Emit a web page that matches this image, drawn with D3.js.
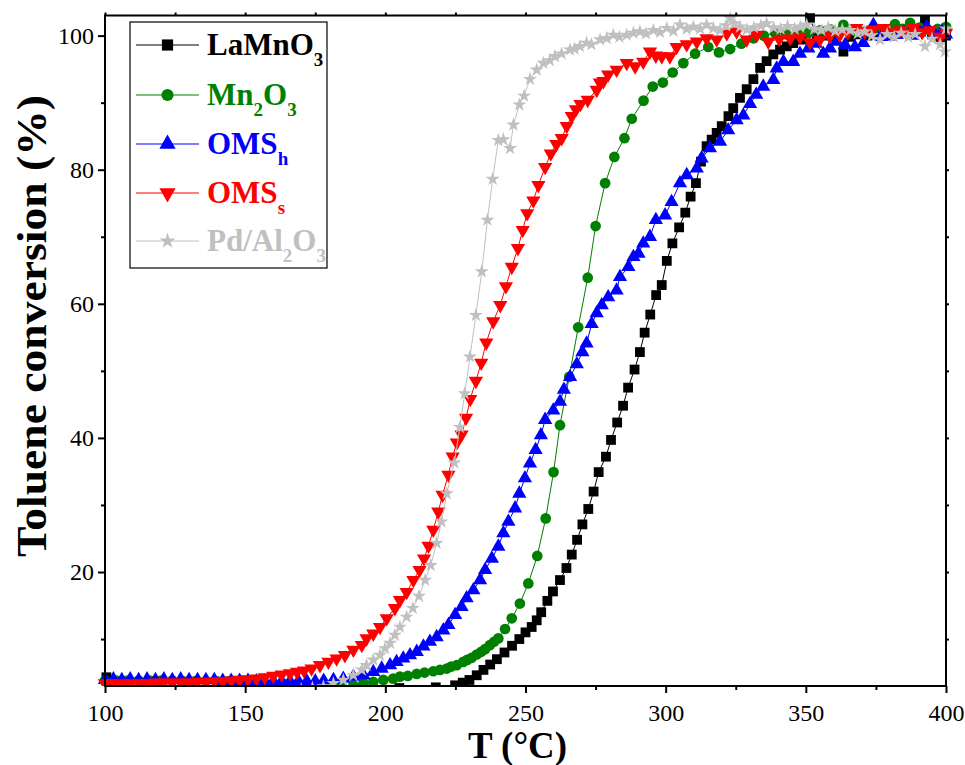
<!DOCTYPE html>
<html>
<head>
<meta charset="utf-8">
<script src="https://cdn.jsdelivr.net/npm/d3@7"></script>
<style>
  body { margin: 0; background: #fff; }
  text { font-family: "Liberation Serif", "Times New Roman", serif; }
</style>
</head>
<body>
<svg id="chart" width="965" height="765"></svg>
<script>
////////////////////////////////////////////////
// data (T in °C, toluene conversion in %)
////////////////////////////////////////////////

var xTicks = [100, 150, 200, 250, 300, 350, 400];
var xMinor = [125, 175, 225, 275, 325, 375];
var yTicks = [20, 40, 60, 80, 100];
var yMinor = [10, 30, 50, 70, 90];

var seriesNames = ["LaMnO3", "Mn2O3", "OMSh", "OMSs", "Pd/Al2O3"];

var laMnO3 = [
  [100.5,4.3],[103,2.6],[115,2.6],[130,2.6],[145,2.6],[160,2.6],[175,2.6],[190,2.6],[205,2.7],[218,2.8],
  [224.9,3.1],[227.6,3.5],[230.0,3.9],[232.6,4.6],[235.0,5.4],[237.4,6.2],[239.8,7.0],[242.5,8.0],[245.2,9.0],
  [247.8,10.0],[250.0,11.0],[252.2,11.8],[254.0,12.8],[255.6,14.0],[257.8,15.7],[259.8,17.1],[262.3,18.8],
  [264.6,20.6],[266.5,22.6],[268.4,24.8],[270.3,27.1],[272.4,29.4],[274.3,32.0],[276.1,34.9],[278.7,37.2],
  [280.5,39.7],[282.7,42.3],[284.8,44.8],[286.6,47.5],[288.9,50.2],[290.8,52.8],[292.5,55.7],[294.5,58.4],
  [296.6,61.3],[298.6,62.8],[300.4,66.4],[302.4,69.0],[304.8,71.4],[307.0,73.6],[308.9,76.0],[310.8,78.0],
  [312.6,81.2],[314.6,83.5],[316.4,84.5],[318.2,85.5],[320.0,86.5],[322.4,88.0],[324.1,89.2],[326.5,90.7],
  [328.9,92.0],[331.3,93.5],[333.7,95.2],[336.0,96.2],[338.4,97.2],[340.8,97.9],[343.2,98.4],[345.5,98.9],
  [348.5,99.4],[351.5,102.6],[354.0,99.6],[357.0,100.0],[360.0,99.8],[363.4,97.6],[366.0,99.8],[369.0,100.2],
  [372.0,100.0],[375.0,100.4],[378.0,100.1],[381.0,100.3],[384.0,100.6],[387.0,100.5],[390.0,100.8],
  [392.5,102.3],[395.0,100.2],[398.0,99.6],[400.0,100.0]
];

var mn2O3 = [
  [100,3.8],[104,3.8],[108,3.8],[112,3.8],[116,3.8],[120,3.8],[124,3.8],[128,3.7],[132,3.7],[136,3.7],
  [140,3.7],[144,3.7],[148,3.6],[152,3.6],[156,3.5],[160,3.4],[164,3.3],[168,3.2],[172,3.1],[176,3.0],
  [180,3.0],[184,3.0],[188.6,3.1],[192.2,3.4],[195.7,3.6],[199.3,3.9],[202.8,4.1],[205.2,4.4],[208.0,4.5],
  [211.2,4.8],[214.0,5.0],[217.1,5.2],[219.5,5.4],[221.9,5.6],[223.5,5.9],[225.5,6.1],[227.8,6.6],[229.2,6.9],
  [230.8,7.2],[232.6,7.7],[234.2,8.1],[235.6,8.5],[237.3,9.1],[238.8,9.6],[240.3,10.1],[242.7,11.5],
  [245.1,13.1],[248.0,15.3],[251.0,18.3],[254.2,22.4],[257.2,28.0],[260.0,34.9],[262.3,41.9],[265.6,49.1],
  [268.8,56.5],[272.2,63.9],[275.0,71.6],[278.4,78.0],[281.7,81.9],[285.3,84.7],[287.9,87.6],[292.1,90.3],
  [295.4,92.4],[299.0,93.0],[302.5,94.5],[306.3,95.9],[310.5,97.3],[315.2,98.3],[319.0,97.5],[323.0,98.0],
  [327.0,98.8],[331.3,99.6],[335.0,100.0],[339.0,100.4],[343.0,100.2],[347.0,100.6],[351.0,100.4],
  [355.0,100.8],[359.0,100.9],[363.4,101.6],[367.0,100.8],[371.0,100.6],[375.0,101.0],[378.0,100.7],
  [381.8,101.7],[384.5,101.0],[387.2,101.9],[390.5,101.2],[394.0,100.8],[397.0,101.0],[400.0,101.3]
];

var omsH = [
  [100,3.9],[103,4.0],[106,3.9],[109,4.0],[112,3.9],[115,4.0],[118,3.9],[121,4.0],[124,3.9],[127,4.0],
  [130,3.9],[133,3.9],[136,3.9],[139,3.9],[142,3.8],[145,3.8],[148,3.8],[151,3.8],[154,3.7],[157,3.7],
  [160,3.7],[163,3.7],[166,3.7],[169,3.7],[172,3.7],[175,3.7],[178,3.8],[181.5,3.9],[185.0,4.1],[188.6,4.4],
  [192.2,4.6],[195.7,5.1],[198.7,5.6],[201.7,6.1],[204.0,6.6],[206.4,7.1],[208.8,7.6],[211.2,8.1],[213.6,8.9],
  [215.9,9.6],[218.3,10.3],[220.7,11.3],[222.5,12.1],[224.9,13.6],[227.2,14.8],[229.0,16.1],[231.4,17.3],
  [233.8,18.8],[235.6,20.3],[238.0,22.0],[240.3,23.8],[242.1,25.8],[243.9,27.5],[246.3,29.5],[247.8,31.7],
  [249.8,34.0],[251.6,36.2],[253.6,38.2],[255.5,40.4],[257.0,42.7],[259.9,44.1],[262.3,45.4],[263.7,47.2],
  [265.9,49.1],[268.3,51.0],[270.3,52.8],[271.8,54.1],[273.6,57.0],[275.4,58.6],[277.2,59.8],[279.5,61.0],
  [282.5,62.0],[283.7,64.0],[286.7,65.5],[288.5,67.0],[290.3,67.5],[292.0,69.0],[294.4,70.0],[296.5,72.5],
  [299.8,73.2],[302.1,75.2],[305.1,78.0],[307.5,79.2],[311.1,80.2],[312.8,81.7],[315.8,83.2],[319.4,84.2],
  [322.3,85.9],[325.3,87.4],[327.7,88.1],[330.1,89.8],[332.3,91.2],[334.8,92.4],[338.4,93.4],[339.6,95.1],
  [342.0,96.1],[345.5,96.1],[347.9,97.3],[350.9,98.1],[353.5,98.8],[356.2,97.3],[358.6,98.1],[361.0,99.1],
  [364.0,98.6],[367.5,98.3],[370.5,98.9],[374.1,101.6],[377.0,99.8],[380.0,99.9],[382.4,100.1],[385.0,100.4],
  [388.0,100.0],[390.5,100.5],[393.1,101.3],[396.0,100.2],[398.5,100.6],[400.0,100.2]
];

var omsS = [
  [100,3.4],[103,3.4],[106,3.4],[109,3.4],[112,3.4],[115,3.4],[118,3.5],[121,3.5],[124,3.5],[127,3.5],
  [130,3.5],[133,3.6],[136,3.6],[139,3.7],[142,3.7],[145,3.8],[148,3.9],[151,4.0],[154,4.1],[157,4.3],
  [160,4.5],[163,4.7],[166,4.9],[168.5,5.1],[171,5.3],[173.7,5.6],[176.7,6.1],[179.7,6.6],[182.6,7.1],
  [185.6,7.6],[188.6,8.4],[191.6,9.1],[193.3,10.1],[195.7,10.8],[198.1,11.8],[200.5,13.1],[203.4,14.6],
  [205.2,15.8],[207.6,17.0],[210.0,18.8],[212.2,20.3],[213.8,22.0],[215.4,23.9],[217.1,26.3],[218.9,29.0],
  [220.4,31.5],[222.5,34.5],[224.0,37.2],[225.5,39.3],[227.2,40.5],[228.8,43.0],[230.3,45.8],[232.3,48.5],
  [234.2,51.2],[236.0,54.2],[238.5,57.4],[241.0,59.8],[243.0,62.6],[245.1,65.5],[247.3,68.3],[249.0,71.0],
  [250.6,73.5],[252.8,75.4],[254.6,77.7],[257.0,80.4],[259.0,82.4],[261.0,83.8],[262.9,84.7],[264.7,86.5],
  [266.5,88.0],[268.0,89.0],[269.6,89.8],[272.2,90.4],[275.4,91.9],[276.5,93.0],[277.8,93.2],[279.5,94.2],
  [282.5,94.9],[286.1,95.9],[289.1,95.4],[292.0,96.1],[294.4,97.6],[296.5,97.0],[298.6,96.9],[301.5,96.9],
  [303.9,98.3],[307.5,98.7],[311.1,99.1],[314.6,99.6],[318.2,99.4],[321.8,100.3],[325.3,100.6],[328.9,99.4],
  [332.5,100.1],[336.6,99.1],[340.5,99.5],[344.4,99.6],[347.9,99.8],[351.5,99.0],[355.0,99.4],[358.5,99.9],
  [362.1,100.1],[365.0,100.5],[368.0,101.1],[371.0,100.6],[374.0,100.9],[377.7,101.1],[380.5,100.5],
  [383.6,100.8],[386.0,100.4],[388.4,101.1],[391.5,100.5],[394.3,100.8],[397.9,99.8],[400.0,100.4]
];

var pdAl2O3 = [
  [170,2.5],[174,2.7],[177.9,2.9],[181.5,3.4],[185.0,3.9],[188.6,4.6],[191.6,5.4],[193.3,6.1],[195.7,6.9],
  [198.1,7.6],[199.9,8.6],[201.7,9.4],[203.4,10.6],[205.2,11.8],[207.6,13.3],[209.8,14.6],[212.0,16.4],
  [214.2,18.8],[216.2,21.0],[218.3,24.3],[220.0,27.5],[221.9,31.7],[224.6,36.3],[226.6,41.6],[228.3,46.6],
  [230.2,52.1],[232.3,58.3],[234.4,64.8],[236.4,72.5],[238.3,78.6],[240.3,84.4],[242.1,84.5],[244.5,83.2],
  [245.7,86.7],[247.8,89.7],[249.5,91.0],[251.6,93.5],[254.0,94.9],[256.4,95.9],[258.7,96.3],[260.5,96.9],
  [262.9,97.3],[265.9,97.9],[267.5,98.0],[269.4,98.4],[271.8,98.9],[273.5,98.7],[276.6,99.4],[279.0,99.6],
  [281.3,100.1],[283.5,99.8],[286.1,100.1],[288.5,100.4],[290.8,100.6],[293.0,100.3],[295.6,100.8],
  [298.0,100.5],[300.4,101.1],[302.8,100.7],[305.1,101.6],[307.5,101.0],[309.9,101.3],[312.3,101.0],
  [314.6,101.6],[317.0,101.1],[319.4,100.8],[321.5,101.5],[323.0,102.6],[324.5,101.8],[326.5,101.3],
  [329.0,100.9],[331.5,101.2],[334.0,101.5],[336.0,101.8],[338.5,101.2],[341.0,101.0],[343.5,101.4],
  [346.0,101.0],[348.0,101.3],[350.3,101.6],[353.0,101.0],[355.5,100.8],[358.0,101.2],[360.5,100.7],
  [363.0,100.9],[365.8,100.8],[368.5,100.3],[371.0,100.6],[373.5,100.0],[376.5,99.4],[379.0,100.2],
  [381.5,99.8],[384.0,100.4],[386.5,99.8],[389.0,100.2],[392.5,98.4],[395.0,99.5],[397.9,98.7],
  [399.6,97.6],[400.0,101.0]
];

////////////////////////////////////////////////
// styles
////////////////////////////////////////////////

var series = [
  {name: seriesNames[0], data: laMnO3,  color: '#000000', sym: d3.symbolSquare,   size: 96, rot: 0,
   label: [['LaMnO',0],['3',1]]},
  {name: seriesNames[1], data: mn2O3,   color: '#008000', sym: d3.symbolCircle,   size: 90, rot: 0,
   label: [['Mn',0],['2',1],['O',0],['3',1]]},
  {name: seriesNames[2], data: omsH,    color: '#0000ff', sym: d3.symbolTriangle, size: 88, rot: 0,
   label: [['OMS',0],['h',1]]},
  {name: seriesNames[3], data: omsS,    color: '#ff0000', sym: d3.symbolTriangle, size: 88, rot: 180,
   label: [['OMS',0],['s',1]]},
  {name: seriesNames[4], data: pdAl2O3, color: '#c0c0c0', sym: d3.symbolStar,     size: 62, rot: 0,
   label: [['Pd/Al',0],['2',1],['O',0],['3',1]]}
];

var W = 965, H = 765;
var pl = 105, pr = 946, pt = 15.5, pb = 686;
var serif = '"Liberation Serif", "Times New Roman", serif';

var svg = d3.select('#chart');

var x = d3.scaleLinear().domain([100, 400]).range([pl, pr]);
var y = d3.scaleLinear().domain([3, 103]).range([pb, pt]);

////////////////////////////////////////////////
// clip paths
////////////////////////////////////////////////

var defs = svg.append('defs');
defs.append('clipPath').attr('id', 'lineClip')
  .append('rect').attr('x', pl).attr('y', pt).attr('width', pr - pl).attr('height', pb - pt);
defs.append('clipPath').attr('id', 'markClip')
  .append('rect').attr('x', pl - 7).attr('y', pt - 7).attr('width', pr - pl + 14).attr('height', pb - pt + 7);

////////////////////////////////////////////////
// series
////////////////////////////////////////////////

var line = d3.line()
  .x(function(d){ return x(d[0]); })
  .y(function(d){ return y(d[1]); });

series.forEach(function(s){
  svg.append('path')
    .datum(s.data)
    .attr('clip-path', 'url(#lineClip)')
    .attr('fill', 'none')
    .attr('stroke', s.color)
    .attr('stroke-width', 1)
    .attr('d', line);

  svg.append('g')
    .attr('clip-path', 'url(#markClip)')
    .selectAll('path')
    .data(s.data)
    .enter()
      .append('path')
      .attr('d', d3.symbol().type(s.sym).size(s.size))
      .attr('fill', s.color)
      .attr('transform', function(d){
        return 'translate(' + x(d[0]) + ',' + y(d[1]) + ') rotate(' + s.rot + ')';
      });
});

////////////////////////////////////////////////
// axes
////////////////////////////////////////////////

function styleAxis(g){
  g.attr('font-family', serif).attr('font-size', 24);
  g.select('.domain').remove();
  g.selectAll('line').attr('stroke', '#000').attr('stroke-width', 2);
  g.selectAll('text').attr('fill', '#000');
}

svg.append('g')
  .attr('transform', 'translate(0,' + pb + ')')
  .call(d3.axisBottom(x).tickValues(xTicks).tickSize(7).tickPadding(11).tickFormat(d3.format('d')))
  .call(styleAxis);
svg.append('g')
  .attr('transform', 'translate(0,' + pb + ')')
  .call(d3.axisBottom(x).tickValues(xMinor).tickSize(4).tickFormat(''))
  .call(styleAxis);

svg.append('g')
  .attr('transform', 'translate(' + pl + ',0)')
  .call(d3.axisLeft(y).tickValues(yTicks).tickSize(7).tickPadding(4).tickFormat(d3.format('d')))
  .call(styleAxis);
svg.append('g')
  .attr('transform', 'translate(' + pl + ',0)')
  .call(d3.axisLeft(y).tickValues(yMinor).tickSize(4).tickFormat(''))
  .call(styleAxis);

svg.append('g')
  .attr('transform', 'translate(0,' + pt + ')')
  .call(d3.axisTop(x).tickValues(xTicks.concat(xMinor)).tickSize(3).tickFormat(''))
  .call(styleAxis);
svg.append('g')
  .attr('transform', 'translate(' + pr + ',0)')
  .call(d3.axisRight(y).tickValues(yTicks.concat(yMinor)).tickSize(3).tickFormat(''))
  .call(styleAxis);

svg.append('rect')
  .attr('x', pl).attr('y', pt)
  .attr('width', pr - pl).attr('height', pb - pt)
  .attr('fill', 'none')
  .attr('stroke', '#000')
  .attr('stroke-width', 2);

svg.append('text')
  .attr('transform', 'translate(46,326) rotate(-90)')
  .attr('text-anchor', 'middle')
  .attr('font-size', 42)
  .attr('font-weight', 'bold')
  .attr('textLength', 462)
  .attr('lengthAdjust', 'spacingAndGlyphs')
  .text('Toluene conversion (%)');

svg.append('text')
  .attr('x', 517.5)
  .attr('y', 758)
  .attr('text-anchor', 'middle')
  .attr('font-size', 38)
  .attr('font-weight', 'bold')
  .attr('textLength', 99)
  .attr('lengthAdjust', 'spacingAndGlyphs')
  .text('T (\u00B0C)');

////////////////////////////////////////////////
// legend
////////////////////////////////////////////////

var legRows = [45, 95, 144, 193, 241];

svg.append('rect')
  .attr('x', 130).attr('y', 22)
  .attr('width', 197).attr('height', 246)
  .attr('fill', '#fff')
  .attr('stroke', '#000')
  .attr('stroke-width', 1.2);

series.forEach(function(s, i){
  var ly = legRows[i];
  svg.append('line')
    .attr('x1', 136).attr('x2', 199)
    .attr('y1', ly).attr('y2', ly)
    .attr('stroke', s.color).attr('stroke-width', 1);
  svg.append('path')
    .attr('d', d3.symbol().type(s.sym).size(s.size * 1.3))
    .attr('fill', s.color)
    .attr('transform', 'translate(167.5,' + ly + ') rotate(' + s.rot + ')');

  var t = svg.append('text')
    .attr('x', 207)
    .attr('y', ly + 10)
    .attr('font-size', 31)
    .attr('font-weight', 'bold')
    .attr('fill', s.color);
  var shift = 0;
  s.label.forEach(function(p){
    var dy = p[1] ? 11 - shift : -shift;
    shift = p[1] ? 11 : 0;
    t.append('tspan')
      .attr('dy', dy)
      .attr('font-size', p[1] ? 19 : 31)
      .text(p[0]);
  });
});
</script>
</body>
</html>
